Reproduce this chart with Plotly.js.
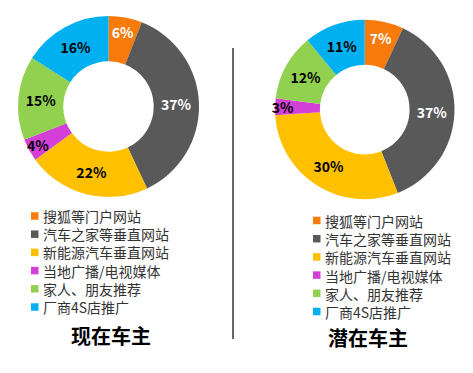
<!DOCTYPE html>
<html>
<head>
<meta charset="utf-8">
<script src="https://cdn.plot.ly/plotly-3.0.1.min.js"></script>
<style>html,body{margin:0;padding:0;background:#fff;}#chart{width:473px;height:373px;}</style>
</head>
<body>
<div id="chart"></div>
<script>
const categories = ["搜狐等门户网站", "汽车之家等垂直网站", "新能源汽车垂直网站", "当地广播/电视媒体", "家人、朋友推荐", "厂商4S店推广"];
const currentOwners = [6, 37, 22, 4, 15, 16];
const potentialOwners = [7, 37, 30, 3, 12, 11];
const groupTitles = ["现在车主", "潜在车主"];
const colors = ["#F77A0B", "#595959", "#FFC000", "#D43FD8", "#92D050", "#00B0F0"];
const labelColors = ["#ffffff", "#ffffff", "#000000", "#000000", "#000000", "#000000"];

const W = 473, H = 373;
const px = x => x / W;
const py = y => 1 - y / H;
const FONT = '"Noto Sans CJK SC", "Noto Sans", sans-serif';
const LEG_SIZE = 14;
const LINE = LEG_SIZE * 1.3;

function pie(values, dom) {
  return {
    type: 'pie',
    values: values,
    labels: categories,
    sort: false,
    direction: 'clockwise',
    rotation: 0,
    hole: 0.5,
    marker: {colors: colors, line: {width: 0}},
    textinfo: 'none',
    texttemplate: '%{value}%',
    textposition: 'inside',
    insidetextorientation: 'horizontal',
    insidetextfont: {family: FONT, size: 14, color: labelColors, weight: 'bold'},
    showlegend: false,
    hoverinfo: 'label+percent',
    domain: dom
  };
}

const data = [
  pie(currentOwners, {x: [px(18), px(199)], y: [py(197), py(16)]}),
  pie(potentialOwners, {x: [px(275), px(454.5)], y: [py(199.5), py(19.5)]})
];

const shapes = [{
  type: 'line', xref: 'paper', yref: 'paper',
  x0: px(233), x1: px(233), y0: py(48), y1: py(339),
  line: {color: '#000', width: 1.2}
}];
const annotations = [];

function legend(sqX, textX, centerY) {
  const n = categories.length;
  categories.forEach((c, i) => {
    const y = centerY + (i - (n - 1) / 2) * LINE;
    shapes.push({
      type: 'rect', xref: 'paper', yref: 'paper',
      x0: px(sqX), x1: px(sqX + 7.5), y0: py(y + 3.75), y1: py(y - 3.75),
      fillcolor: colors[i], line: {width: 0}
    });
  });
  annotations.push({
    xref: 'paper', yref: 'paper', x: px(textX), y: py(centerY),
    xanchor: 'left', yanchor: 'middle', align: 'left', showarrow: false, borderpad: 0,
    text: categories.join('<br>'), font: {family: FONT, size: LEG_SIZE, color: '#333'}
  });
}
legend(31, 42, 261.5);
legend(313, 324, 266);

annotations.push({
  xref: 'paper', yref: 'paper', x: px(111), y: py(335), xanchor: 'center', yanchor: 'middle',
  showarrow: false, text: '<b>' + groupTitles[0] + '</b>', font: {family: FONT, size: 20, color: '#000'}
});
annotations.push({
  xref: 'paper', yref: 'paper', x: px(368), y: py(337), xanchor: 'center', yanchor: 'middle',
  showarrow: false, text: '<b>' + groupTitles[1] + '</b>', font: {family: FONT, size: 20, color: '#000'}
});

const layout = {
  width: W, height: H,
  margin: {l: 0, r: 0, t: 0, b: 0},
  paper_bgcolor: '#fff', plot_bgcolor: '#fff',
  uniformtext: {minsize: 14, mode: 'show'},
  shapes: shapes, annotations: annotations,
  font: {family: FONT}
};

Plotly.newPlot('chart', data, layout, {displayModeBar: false, staticPlot: true});
</script>
</body>
</html>
